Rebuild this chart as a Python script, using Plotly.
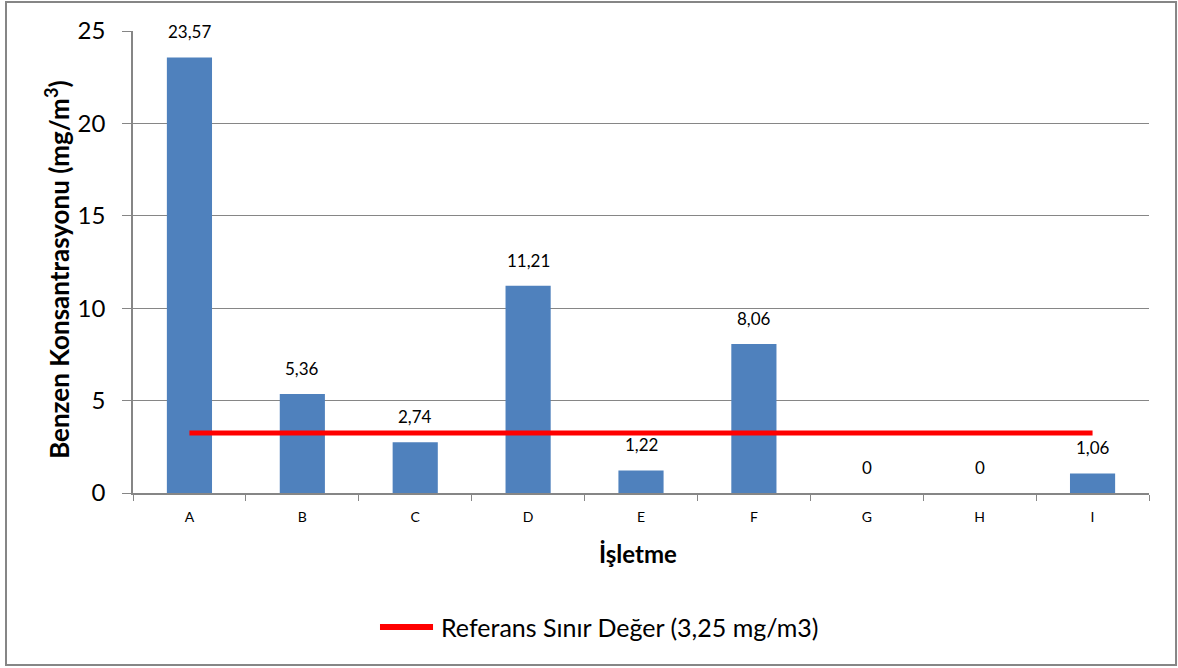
import plotly.graph_objects as go

categories = ["A", "B", "C", "D", "E", "F", "G", "H", "I"]
values = [23.57, 5.36, 2.74, 11.21, 1.22, 8.06, 0, 0, 1.06]
value_labels = ["23,57", "5,36", "2,74", "11,21", "1,22", "8,06", "0", "0", "1,06"]
reference_limit = [3.25] * len(categories)
y_ticks = [0, 5, 10, 15, 20, 25]
legend_label = "Referans Sınır Değer (3,25 mg/m3)"

FONT = "Lato"
GRAY = "#868686"
RED = "#FF0000"

fig = go.Figure()
fig.add_trace(go.Bar(
    x=categories, y=values,
    marker=dict(color="#4F81BD", line=dict(width=0)),
    showlegend=False, hoverinfo="skip",
))
fig.add_trace(go.Scatter(
    x=categories, y=reference_limit, mode="lines",
    line=dict(color=RED, width=5),
    name=legend_label, showlegend=False,
))

annotations = [
    dict(x=c, y=v, xref="x", yref="y", text=t, showarrow=False,
         yanchor="bottom", yshift=13,
         font=dict(family=FONT, size=17, color="black"))
    for c, v, t in zip(categories, values, value_labels)
]
annotations.append(dict(
    x=-0.0738, y=0.483, xref="paper", yref="paper", textangle=-90,
    text="<b>Benzen Konsantrasyonu (mg/m<sup>3</sup>)</b>", showarrow=False,
    xanchor="center", yanchor="middle",
    font=dict(family=FONT, size=26, color="black")))
annotations.append(dict(
    x=0.497, y=-0.13, xref="paper", yref="paper",
    text="<b>İşletme</b>", showarrow=False,
    xanchor="center", yanchor="middle",
    font=dict(family=FONT, size=24, color="black")))
# legend entry (drawn manually to match the long Excel-style sample line)
annotations.append(dict(
    x=0.3012, y=-0.29, xref="paper", yref="paper",
    text=legend_label, showarrow=False,
    xanchor="left", yanchor="middle",
    font=dict(family=FONT, size=25, color="black")))

fig.update_layout(
    width=1178, height=668,
    margin=dict(l=133, r=29, t=31, b=175),
    plot_bgcolor="white", paper_bgcolor="white",
    bargap=0.6,
    font=dict(family=FONT, color="black"),
    showlegend=False,
    xaxis=dict(
        showline=True, linecolor=GRAY, linewidth=1.5,
        ticks="outside", tickson="boundaries", ticklen=6, tickcolor=GRAY,
        tickfont=dict(family=FONT, size=14, color="black"),
        ticklabelstandoff=10,
    ),
    yaxis=dict(
        range=[0, 25], tickvals=y_ticks,
        showline=True, linecolor=GRAY, linewidth=1.5,
        ticks="outside", ticklen=9, tickcolor=GRAY,
        showgrid=True, gridcolor=GRAY, gridwidth=1,
        zeroline=False,
        tickfont=dict(family=FONT, size=24, color="black"),
        ticklabelstandoff=12,
    ),
    annotations=annotations,
    shapes=[
        dict(type="rect", xref="paper", yref="paper",
             x0=-0.125, x1=1.0266, y0=-0.3723, y1=1.0628,
             line=dict(color=GRAY, width=2), layer="below"),
        dict(type="line", xref="paper", yref="paper",
             x0=0.2431, x1=0.2953, y0=-0.29, y1=-0.29,
             line=dict(color=RED, width=6)),
    ],
)

fig.write_html("out.html")
